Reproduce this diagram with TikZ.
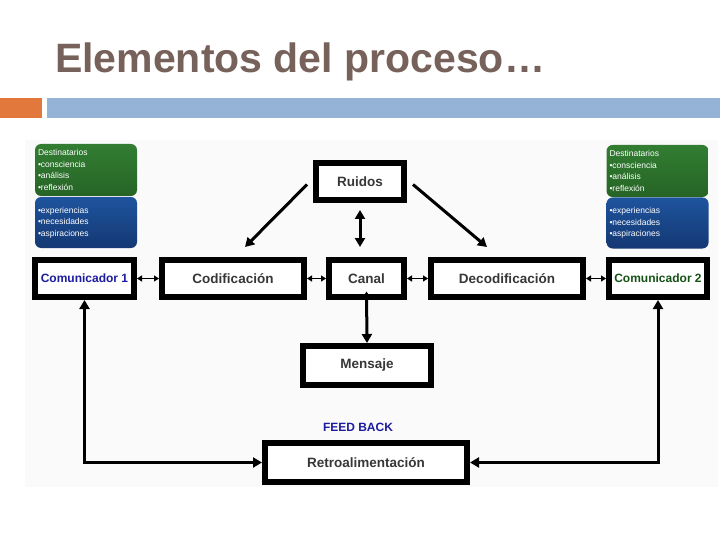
\documentclass[tikz,border=0pt]{standalone}
\usepackage{fontspec}
\setmainfont{Liberation Sans}
\usetikzlibrary{arrows.meta, positioning}
\definecolor{titlegray}{RGB}{118,98,90}
\definecolor{barblue}{RGB}{149,179,215}
\definecolor{barorange}{RGB}{226,120,60}
\definecolor{boxtext}{RGB}{55,55,55}
\definecolor{comblue}{RGB}{28,28,160}
\definecolor{comgreen}{RGB}{22,82,22}
\definecolor{destgreen}{RGB}{50,125,50}
\definecolor{destgreendk}{RGB}{38,100,38}
\definecolor{destblue}{RGB}{30,84,158}
\definecolor{destbluedk}{RGB}{20,56,115}
\begin{document}
\begin{tikzpicture}[
		x=1pt, y=-1pt,
		box/.style={draw=black, line width=6pt, fill=white, minimum height=37pt, inner sep=0pt, font=\fontsize{13.5}{15}\selectfont\bfseries, text=boxtext},
		dest/.style={rounded corners=6pt, text=white, align=left, inner sep=3pt, text width=96pt, font=\fontsize{8.5}{11.5}\selectfont},
		link/.style={<->, line width=3pt},
		hop/.style={{Triangle[length=5pt,width=6pt]}-{Triangle[length=5pt,width=6pt]}, line width=1.6pt},
		>={Triangle[length=9pt,width=10pt]}
	]
	\useasboundingbox (0,0) rectangle (720,540);
	\fill[white] (0,0) rectangle (720,540);

	% title and bars
	\node[anchor=base west, inner sep=0pt, text=titlegray, font=\fontsize{41}{45}\selectfont\bfseries] (title) at (55,73) {Elementos del proceso…};
	\fill[barorange] (0,98) rectangle (42,118);
	\fill[barblue] (47,98) rectangle (720,118);

	% picture background
	\fill[black!2] (25,140) rectangle (718,487);

	% destinatarios
	\node[dest, minimum height=52pt, top color=destgreen, bottom color=destgreendk] (dest1) at (86,170) {Destinatarios\\•consciencia\\•análisis\\•reflexión};
	\node[dest, minimum height=51pt, top color=destblue, bottom color=destbluedk] (asp1) at (86,222.5) {•experiencias\\•necesidades\\•aspiraciones};
	\node[dest, minimum height=52pt, top color=destgreen, bottom color=destgreendk] (dest2) at (657.5,171) {Destinatarios\\•consciencia\\•análisis\\•reflexión};
	\node[dest, minimum height=51pt, top color=destblue, bottom color=destbluedk] (asp2) at (657.5,223) {•experiencias\\•necesidades\\•aspiraciones};

	% main row
	\node[box, minimum width=99pt, text=comblue, font=\fontsize{12}{14}\selectfont\bfseries] (com1) at (84.5,278.5) {Comunicador 1};
	\node[box, minimum width=142pt] (cod) at (233,278.5) {Codificación};
	\node[box, minimum width=75pt] (canal) at (366.5,278.5) {Canal};
	\node[box, minimum width=152pt] (decod) at (507,278.5) {Decodificación};
	\node[box, minimum width=98pt, text=comgreen, font=\fontsize{12}{14}\selectfont\bfseries] (com2) at (658,278.5) {Comunicador 2};

	\node[box, minimum width=88pt] (ruidos) at (360,181.5) {Ruidos};
	\node[box, minimum width=128pt, minimum height=39pt] (mensaje) at (367,365.5) {Mensaje};
	\node[box, minimum width=202pt, minimum height=39pt] (retro) at (366,462.5) {Retroalimentación};
	\node[text=comblue, font=\fontsize{12}{14}\selectfont\bfseries] (feed) at (358,427) {FEED BACK};

	% connectors
	\draw[hop] (com1) -- (cod);
	\draw[hop] (cod) -- (canal);
	\draw[hop] (canal) -- (decod);
	\draw[hop] (decod) -- (com2);

	\draw[->, line width=3pt] ([xshift=-6pt,yshift=-3pt]ruidos.west) -- ([xshift=12pt,yshift=10pt]cod.north);
	\draw[->, line width=3pt] ([xshift=6pt,yshift=-3pt]ruidos.east) -- ([xshift=-20pt,yshift=10pt]decod.north);
	\draw[link, shorten <=7pt, shorten >=10pt] (ruidos.south) -- (ruidos.south |- canal.north);
	\draw[{Triangle[length=5pt,width=6pt]}-{Triangle[length=9pt,width=10pt]}, line width=3pt] ([yshift=-13pt]canal.center) -- (mensaje.north);

	\draw[link] (com1.south) |- (retro.west);
	\draw[link] (com2.south) |- (retro.east);
\end{tikzpicture}
\end{document}
